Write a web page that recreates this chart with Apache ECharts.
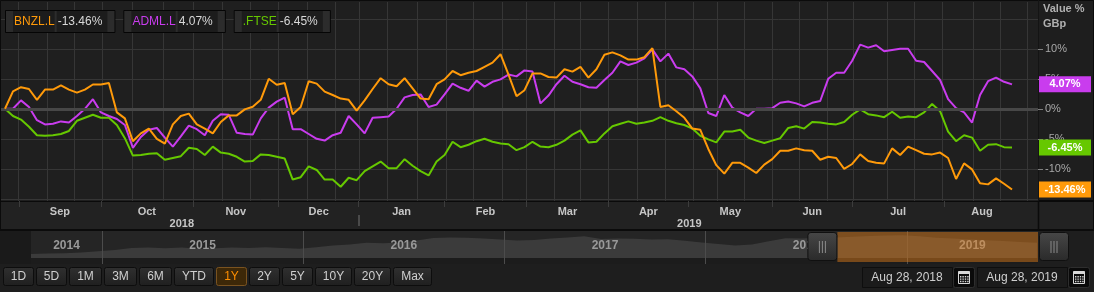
<!DOCTYPE html>
<html><head><meta charset="utf-8">
<script src="https://cdn.jsdelivr.net/npm/echarts@6/dist/echarts.min.js"></script>
<style>html,body{margin:0;padding:0;background:#1e1e1e;overflow:hidden}#c{width:1094px;height:292px}</style>
</head><body><div id="c"></div>
<script>
// ---------- DATA ----------
// Series sampled every 2 trading days from Aug 28, 2018 (index 0) to Aug 28, 2019; % change.
const SAMPLE_STEP = 2;
const seriesNames = ['BNZL.L', 'ADML.L', '.FTSE'];
const bnzl = [
  0, 2.9, 3.6, 3.3, 1.5, 3.2, 3.2, 3.9, 3.2, 2.7,
  3.2, 4.05, 4.05, 4.3, -0.6, -1.6, -5.4, -4.1, -3.3, -5.0,
  -5.8, -2.6, -1.2, -0.8, -2.6, -3.3, -4.1, -2.2, -1.1, -1.1,
  -0.1, 0.35, 1.5, 5.0, 4.0, 4.3, -0.9, 0.3, 4.6, 4.2,
  2.86, 2.3, 1.7, 1.5, -0.3, 1.4, 3.3, 5.1, 4.1, 3.75,
  5.1, 3.4, 1.7, 1.6, 4.1, 4.9, 6.3, 5.6, 6.0, 6.3,
  7.0, 7.7, 9.1, 5.7, 2.1, 3.1, 5.9, 5.9, 5.3, 5.2,
  6.6, 6.2, 7.0, 5.2, 6.6, 9.0, 9.4, 8.9, 8.2, 8.2,
  8.6, 10.1, 0.3, 0.6, -0.4, -1.5, -3.3, -3.5, -6.7, -9.4,
  -10.8, -9.0, -9.0, -9.8, -10.7, -9.3, -8.4, -7.0, -7.0, -6.6,
  -6.9, -7.0, -8.5, -8.0, -8.2, -10.0, -9.2, -7.6, -8.7, -9.0,
  -9.1, -6.6, -7.7, -6.3, -6.9, -7.5, -7.6, -7.3, -8.2, -11.7,
  -9.1, -10.1, -12.4, -12.6, -11.6, -12.5, -13.46
];
const adml = [
  0, 0, 1.4, 0.3, -1.9, -2.6, -2.5, -2.1, -2.3, -1.2,
  0.0, 1.6, -0.6, -1.2, -1.7, -2.7, -6.5, -4.7, -3.5, -3.2,
  -4.8, -6.3, -4.6, -2.8, -3.4, -4.4, -2.0, -0.9, -1.0, -4.0,
  -4.2, -4.3, -1.6, 0.2, 1.2, 1.86, -3.4, -3.4, -4.2, -5.0,
  -5.3, -4.4, -4.0, -1.2, -2.6, -4.1, -1.5, -1.4, -1.3, 0.0,
  1.9, 2.3, 2.4, 0.3, 0.7, 2.4, 4.2, 3.5, 3.0, 4.7,
  3.7, 4.5, 4.9, 5.7, 5.4, 6.4, 6.2, 0.9, 2.2, 4.1,
  5.5, 4.5, 4.1, 3.6, 3.5, 4.8, 6.0, 7.9, 7.3, 7.7,
  8.4, 9.9, 7.9, 9.2, 6.9, 6.6, 5.4, 3.4, -0.7, -1.2,
  2.3, 0.2, -0.6, -1.2, 0.0, 0.0, 0.1, 1.0, 1.2, 0.9,
  0.4, 1.0, 1.3, 5.0, 6.0, 6.0, 8.0, 10.7, 10.2, 10.6,
  9.6, 9.8, 10.0, 10.0, 8.0, 7.8, 6.3, 4.8, 1.6, 0.1,
  -0.6, -2.3, 2.3, 4.6, 5.2, 4.5, 4.07
];
const ftse = [
  0, -1.2, -1.8, -3.0, -4.4, -4.5, -4.4, -4.2, -3.7, -2.0,
  -1.5, -1.0, -1.5, -1.5, -2.7, -4.9, -7.8, -7.7, -7.5, -7.4,
  -8.5, -8.2, -7.9, -6.5, -6.7, -7.7, -6.3, -7.3, -7.5, -8.0,
  -8.8, -8.7, -7.6, -7.7, -8.0, -8.3, -11.8, -11.4, -9.6, -10.2,
  -11.8, -11.8, -13.0, -11.5, -11.9, -10.4, -9.6, -8.8, -9.9, -9.9,
  -8.4, -9.5, -10.4, -11.1, -8.8, -7.7, -5.5, -6.4, -6.0, -5.4,
  -5.0, -5.5, -5.8, -5.9, -6.9, -6.4, -5.5, -6.3, -6.4, -6.0,
  -5.3, -4.3, -3.6, -5.6, -5.5, -4.1, -2.9, -2.5, -2.1, -2.5,
  -2.3, -2.0, -1.4, -2.0, -2.4, -2.7, -3.3, -4.5, -5.1, -5.6,
  -3.8, -3.8, -3.5, -4.8, -5.3, -5.7, -5.3, -4.9, -3.2, -2.9,
  -3.3, -2.2, -2.3, -2.5, -2.6, -2.2, -1.0, -0.1, -0.9, -1.1,
  -1.4, -0.5, -1.5, -1.3, -1.4, -0.6, 0.8, -0.4, -3.8, -5.4,
  -4.4, -4.8, -7.0, -6.0, -5.9, -6.4, -6.45
];
// Month axis (trading-day index of first day of each month)
const monthNames = ['Sep','Oct','Nov','Dec','Jan','Feb','Mar','Apr','May','Jun','Jul','Aug'];
const monthStarts = [3.5, 24, 47, 68.5, 88.5, 110, 130.5, 151, 171, 192, 212, 235];
const lastDay = 254;
const yearNames = ['2018', '2019'];
const yearStarts = [0, 88.5];
// vertical grid lines (1st / 11th / 21st of each month, trading-day index)
const gridDays = [3.3, 10.5, 17.3, 24.3, 31.8, 39.5, 47.1, 54.3, 61.3, 68.3, 75.6, 82.6,
  88.6, 95.6, 103.1, 110.4, 117.1, 124.4, 130.4, 137.4, 143.9, 150.9, 158.2, 165.2,
  172.2, 178.2, 184.9, 191.9, 198.7, 205.7, 212.2, 220.7, 227.5, 234.5, 242.2, 249.0, 255.8];
const yGridValues = [-15, -10, -5, 0, 5, 10, 15];
const yLabelValues = [-10, -5, 0, 5, 10];
// Navigator: monthly history (GBp) from Aug 2014
const navStart = 2014.647, navEnd = 2019.652;
const navHistory = [
  1400, 1420, 1440, 1480, 1540, 1600, 1700, 1720, 1690, 1730,
  1660, 1690, 1720, 1700, 1740, 1700, 1660, 1740, 1830, 1870,
  1960, 1940, 1980, 2080, 2200, 2230, 2210, 2170, 2120, 2080,
  2100, 2180, 2220, 2290, 2150, 2170, 2160, 2120, 2140, 2060,
  1980, 1900, 1830, 1880, 2040, 2190, 2170, 2210, 2220, 2260,
  2300, 2320, 2340, 2290, 2210, 2180, 2130, 2090, 2050, 2000, 1960
];
const navYearBounds = [2015, 2016, 2017, 2018, 2019];
const navYearNames = ['2014', '2015', '2016', '2017', '2018', '2019'];
const selection = [2018.655, 2019.652];
const rangeButtons = ['1D','5D','1M','3M','6M','YTD','1Y','2Y','5Y','10Y','20Y','Max'];
const activeButton = '1Y';
const rangeDates = ['Aug 28, 2018', 'Aug 28, 2019'];

// ---------- STYLE ----------
const FONT = '"Liberation Sans", Arial, sans-serif';
const COLORS = {'BNZL.L': '#ff9a0a', 'ADML.L': '#c93cee', '.FTSE': '#66c800'};
const X_MIN = -1, X_MAX = 258.5;
const Y_MIN = -15.37, Y_MAX = 17.8;
const NAV_MIN = 900, NAV_MAX = 2550, NAV_BASE = 1200;
const GRID_LINE = '#363636';

const seriesData = {'BNZL.L': bnzl, 'ADML.L': adml, '.FTSE': ftse};
const toPairs = arr => arr.map((v, i) => [i * SAMPLE_STEP, v]);
const monthMids = monthStarts.map((s, i) => (s + (i + 1 < monthStarts.length ? monthStarts[i + 1] : lastDay)) / 2);
const yearMids = yearStarts.map((s, i) => (s + (i + 1 < yearStarts.length ? yearStarts[i + 1] : lastDay)) / 2);
const navBounds = [navStart].concat(navYearBounds, [navEnd]);
const navMids = navYearNames.map((n, i) => (navBounds[i] + navBounds[i + 1]) / 2);
const navData = navHistory.map((v, k) => [navStart + k / 12, v]);
const pick = (vals, names) => v => { for (let k = 0; k < vals.length; k++) if (Math.abs(vals[k] - v) < 1e-6) return names[k]; return ''; };

const baseX = {type: 'value', gridIndex: 0, position: 'bottom', min: X_MIN, max: X_MAX,
  axisLine: {show: false, onZero: false}, axisTick: {show: false}, axisLabel: {show: false}, splitLine: {show: false}};
const baseY = {type: 'value', gridIndex: 0, position: 'right', min: Y_MIN, max: Y_MAX,
  axisLine: {show: false, onZero: false}, axisTick: {show: false}, axisLabel: {show: false}, splitLine: {show: false}};

const chart = echarts.init(document.getElementById('c'), null, {width: 1094, height: 292});

const bgGraphics = [
  {type: 'rect', z: -5, silent: true, shape: {x: 0, y: 0, width: 1094, height: 292}, style: {fill: '#1e1e1e'}},
  {type: 'rect', z: -4, silent: true, shape: {x: 0, y: 201, width: 1094, height: 29}, style: {fill: '#222222', stroke: '#0b0b0b', lineWidth: 2}},
  {type: 'line', z: -3, silent: true, shape: {x1: 1038.5, y1: 201, x2: 1038.5, y2: 230}, style: {stroke: '#0b0b0b', lineWidth: 1.5}},
  {type: 'rect', z: -4, silent: true, shape: {x: 0, y: 231, width: 31, height: 33}, style: {fill: '#1a1a1a'}},
  {type: 'rect', z: -4, silent: true, shape: {x: 31, y: 231, width: 1007, height: 27}, style: {fill: '#252525'}},
  {type: 'rect', z: -4, silent: true, shape: {x: 31, y: 258, width: 1007, height: 6}, style: {fill: '#1c1c1c'}},
  {type: 'rect', z: -3, silent: true, shape: {x: 0.5, y: 0.5, width: 1093, height: 200.5}, style: {fill: 'none', stroke: '#0b0b0b', lineWidth: 1}},
  {type: 'line', z: -3, silent: true, shape: {x1: 1038.5, y1: 0, x2: 1038.5, y2: 201}, style: {stroke: '#141414', lineWidth: 1}},
  {type: 'text', z: 10, silent: true, x: 1043, y: 9, style: {text: 'Value %', fill: '#b0b0b0', font: 'bold 11px ' + FONT, textAlign: 'left', textVerticalAlign: 'middle'}},
  {type: 'text', z: 10, silent: true, x: 1043, y: 24, style: {text: 'GBp', fill: '#b0b0b0', font: 'bold 11px ' + FONT, textAlign: 'left', textVerticalAlign: 'middle'}}
];

const option = {
  animation: false,
  backgroundColor: '#1e1e1e',
  textStyle: {fontFamily: FONT},
  grid: [
    {left: 1, right: 56, top: 2, bottom: 91, containLabel: false, outerBoundsMode: 'none', show: true, backgroundColor: '#1f1f1f', borderWidth: 0},
    {left: 31, right: 56, top: 231, bottom: 28, containLabel: false, outerBoundsMode: 'none', show: false}
  ],
  xAxis: [
    Object.assign({}, baseX, {axisTick: {show: false, customValues: gridDays}, splitLine: {show: true, lineStyle: {color: GRID_LINE, width: 1}}}),
    Object.assign({}, baseX, {
      axisTick: {show: true, customValues: monthStarts, length: 6, lineStyle: {color: '#3c3c3c', width: 1}},
      axisLabel: {show: true, customValues: monthMids, formatter: pick(monthMids, monthNames), color: '#c6c6c6', fontSize: 11, fontWeight: 'bold', fontFamily: FONT, margin: 5}
    }),
    Object.assign({}, baseX, {offset: 14,
      axisTick: {show: true, customValues: yearStarts.slice(1), length: 11, lineStyle: {color: '#4a4a4a', width: 2}},
      axisLabel: {show: true, customValues: yearMids, formatter: pick(yearMids, yearNames), color: '#c6c6c6', fontSize: 11, fontWeight: 'bold', fontFamily: FONT, margin: 3}
    }),
    {type: 'value', gridIndex: 1, position: 'bottom', min: navStart, max: navEnd, z: 3,
      axisLine: {show: false, onZero: false}, axisTick: {show: false},
      axisLabel: {show: true, inside: true, customValues: navMids, formatter: pick(navMids, navYearNames), color: '#999999', fontSize: 12, fontWeight: 'bold', fontFamily: FONT, margin: 12},
      splitLine: {show: false}}
  ],
  yAxis: [
    Object.assign({}, baseY, {axisTick: {show: false, customValues: yGridValues}, splitLine: {show: true, lineStyle: {color: GRID_LINE, width: 1}}}),
    {type: 'value', gridIndex: 1, min: NAV_MIN, max: NAV_MAX, show: false, axisLine: {onZero: false}, splitLine: {show: false}},
    Object.assign({}, baseY, {
      axisTick: {show: true, customValues: yLabelValues, length: 5, lineStyle: {color: '#808080'}},
      axisLabel: {show: true, customValues: yLabelValues, formatter: v => v + '%', color: '#a8a8a8', fontSize: 11, fontFamily: FONT, margin: 7}
    })
  ],
  series: [
    {type: 'line', name: 'zero', xAxisIndex: 0, yAxisIndex: 0, data: [], z: 1, silent: true,
      markLine: {silent: true, symbol: 'none', label: {show: false}, lineStyle: {color: '#474747', width: 3, type: 'solid'}, data: [{yAxis: 0}]}},
    ...['.FTSE', 'ADML.L', 'BNZL.L'].map((n, k) => ({
      type: 'line', name: n, xAxisIndex: 0, yAxisIndex: 0, data: toPairs(seriesData[n]), z: 3 + k,
      showSymbol: false, symbol: 'none', silent: true, lineStyle: {color: COLORS[n], width: 2}, itemStyle: {color: COLORS[n]}
    })),
    {type: 'line', name: 'nav', xAxisIndex: 3, yAxisIndex: 1, data: navData, z: 2, silent: true,
      showSymbol: false, symbol: 'none', lineStyle: {width: 0}, areaStyle: {color: '#3b3b3b', opacity: 1, origin: NAV_BASE},
      markLine: {silent: true, symbol: 'none', label: {show: false}, lineStyle: {color: '#4c4c4c', width: 1, type: 'solid'},
        data: navYearBounds.map(y => ({xAxis: y}))}}
  ],
  graphic: {elements: bgGraphics}
};
chart.setOption(option);

// ---------- overlays positioned through the axes ----------
const ctx = document.createElement('canvas').getContext('2d');
const tw = (t, font) => { ctx.font = font; return ctx.measureText(t).width; };
const fmt = v => v.toFixed(2) + '%';
const last = arr => arr[arr.length - 1];
const px = v => chart.convertToPixel({xAxisIndex: 0}, v);
const py = v => chart.convertToPixel({yAxisIndex: 0}, v);
const nx = v => chart.convertToPixel({xAxisIndex: 3}, v);

const overlay = [];
// selection overlay on the navigator
const s0 = nx(selection[0]), s1 = nx(selection[1]);
overlay.push({type: 'rect', z: 8, silent: true, shape: {x: s0, y: 232, width: s1 - s0, height: 30}, style: {fill: 'rgba(232,128,24,0.45)'}});
// legend boxes
let lx = 5;
const LFONT = '12px ' + FONT;
seriesNames.forEach(n => {
  const val = fmt(last(seriesData[n]));
  const nw = tw(n, LFONT), vw = tw(val, LFONT);
  const w = 8 + 1 + nw + 2 + 2 + vw + 3 + 8;
  overlay.push({type: 'rect', z: 20, silent: true, shape: {x: lx + 0.5, y: 10.5, width: w, height: 22}, style: {fill: '#1c1c1c', stroke: '#050505', lineWidth: 1}});
  overlay.push({type: 'rect', z: 21, silent: true, shape: {x: lx + 1, y: 11, width: 7, height: 21}, style: {fill: '#2c2c2c'}});
  overlay.push({type: 'rect', z: 21, silent: true, shape: {x: lx + w - 7, y: 11, width: 7, height: 21}, style: {fill: '#2c2c2c'}});
  overlay.push({type: 'rect', z: 21, silent: true, shape: {x: lx + 9 + nw, y: 11, width: 2, height: 21}, style: {fill: '#2c2c2c'}});
  overlay.push({type: 'text', z: 22, silent: true, x: lx + 9, y: 22, style: {text: n, fill: COLORS[n], font: LFONT, textAlign: 'left', textVerticalAlign: 'middle'}});
  overlay.push({type: 'text', z: 22, silent: true, x: lx + 12 + nw, y: 22, style: {text: val, fill: '#d8d8d8', font: LFONT, textAlign: 'left', textVerticalAlign: 'middle'}});
  lx += w + 9;
});
// value tags on the right axis
const xr = px(X_MAX);
seriesNames.forEach(n => {
  const v = last(seriesData[n]);
  const y = py(v);
  overlay.push({type: 'rect', z: 20, silent: true, shape: {x: xr + 1, y: y - 8, width: 52, height: 16}, style: {fill: COLORS[n]}});
  overlay.push({type: 'text', z: 21, silent: true, x: xr + 27, y: y, style: {text: fmt(v), fill: '#ffffff', font: 'bold 11px ' + FONT, textAlign: 'center', textVerticalAlign: 'middle'}});
});
// navigator handles
function handle(x0) {
  const els = [{type: 'rect', z: 20, silent: true, shape: {x: x0 + 0.5, y: 232.5, width: 29, height: 28, r: 3},
    style: {fill: new echarts.graphic.LinearGradient(0, 0, 0, 1, [{offset: 0, color: '#474747'}, {offset: 1, color: '#2a2a2a'}]), stroke: '#101010', lineWidth: 1}}];
  [-3, 0, 3].forEach(d => els.push({type: 'line', z: 21, silent: true, shape: {x1: x0 + 15 + d, y1: 241, x2: x0 + 15 + d, y2: 253}, style: {stroke: '#8a8a8a', lineWidth: 1}}));
  return els;
}
overlay.push(...handle(s0 - 30), ...handle(s1 + 1));
// range buttons
const BFONT = '12px ' + FONT;
let bx = 3;
rangeButtons.forEach(b => {
  const w = Math.round(tw(b, BFONT) + 15);
  const act = b === activeButton;
  overlay.push({type: 'rect', z: 20, silent: true, shape: {x: bx + 0.5, y: 267.5, width: w, height: 18, r: 2},
    style: {fill: act ? '#3d2808' : new echarts.graphic.LinearGradient(0, 0, 0, 1, [{offset: 0, color: '#303030'}, {offset: 1, color: '#1f1f1f'}]),
      stroke: act ? '#7a5320' : '#0d0d0d', lineWidth: 1}});
  overlay.push({type: 'text', z: 21, silent: true, x: bx + 0.5 + w / 2, y: 277, style: {text: b, fill: act ? '#ff8f00' : '#d0d0d0', font: BFONT, textAlign: 'center', textVerticalAlign: 'middle'}});
  bx += w + 3;
});
// date boxes with calendar icons
function calIcon(x0, y0) {
  const els = [{type: 'rect', z: 20, silent: true, shape: {x: x0 + 0.5, y: y0 + 0.5, width: 21, height: 20, r: 2}, style: {fill: '#0a0a0a', stroke: '#2e2e2e', lineWidth: 1}},
    {type: 'rect', z: 21, silent: true, shape: {x: x0 + 5.5, y: y0 + 4.5, width: 11, height: 12}, style: {fill: 'none', stroke: '#d8d8d8', lineWidth: 1}},
    {type: 'rect', z: 21, silent: true, shape: {x: x0 + 5.5, y: y0 + 4.5, width: 11, height: 2.5}, style: {fill: '#d8d8d8'}}];
  for (let r = 0; r < 3; r++) for (let c = 0; c < 4; c++)
    els.push({type: 'rect', z: 21, silent: true, shape: {x: x0 + 7 + c * 2.4, y: y0 + 9 + r * 2.4, width: 1.4, height: 1.4}, style: {fill: '#d8d8d8'}});
  return els;
}
const DFONT = '12px ' + FONT;
[862, 977].forEach((x0, k) => {
  overlay.push({type: 'rect', z: 20, silent: true, shape: {x: x0 + 0.5, y: 267.5, width: 90, height: 20}, style: {fill: '#1b1b1b', stroke: '#0e0e0e', lineWidth: 1}});
  overlay.push({type: 'text', z: 21, silent: true, x: x0 + 45, y: 277.5, style: {text: rangeDates[k], fill: '#cfcfcf', font: DFONT, textAlign: 'center', textVerticalAlign: 'middle'}});
  overlay.push(...calIcon(x0 + 91, 267));
});

chart.setOption({graphic: {elements: bgGraphics.concat(overlay)}});
</script>
</body></html>
